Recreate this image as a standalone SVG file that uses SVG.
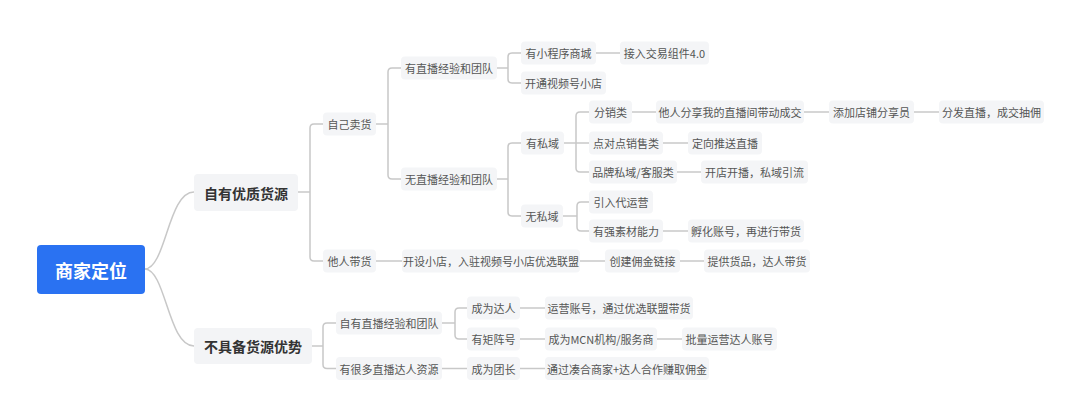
<svg xmlns="http://www.w3.org/2000/svg" width="1080" height="418" viewBox="0 0 1080 418">
<style>
.bg{fill:#ffffff}
.n rect{fill:#f4f5f7}
.n text{font-family:"Noto Sans CJK SC","Noto Sans",sans-serif;font-size:11px;fill:#555555;text-anchor:middle;dominant-baseline:central}
.l1 rect{fill:#f3f4f6}
.l1 text{font-family:"Noto Sans CJK SC","Noto Sans",sans-serif;font-size:14px;font-weight:bold;fill:#333333;text-anchor:middle;dominant-baseline:central}
.root rect{fill:#2a72f2}
.root text{font-family:"Noto Sans CJK SC","Noto Sans",sans-serif;font-size:18px;font-weight:bold;fill:#ffffff;text-anchor:middle;dominant-baseline:central}
#connectors path{fill:none;stroke:#c8c8c8;stroke-width:1.5}
</style>
<rect class="bg" x="0" y="0" width="1080" height="418"/>
<g id="connectors">
<path d="M145 269 C166 268 168 192 194 192"/>
<path d="M145 269 C166 270 168 346 194 346"/>
<path d="M298 192 H310"/>
<path d="M310 192 V128 Q310 124 314 124 H323"/>
<path d="M310 192 V257 Q310 261 314 261 H323"/>
<path d="M376 124 H388"/>
<path d="M388 124 V72 Q388 68 392 68 H401"/>
<path d="M388 124 V175 Q388 179 392 179 H401"/>
<path d="M497 68 H508"/>
<path d="M508 68 V57 Q508 53 512 53 H521"/>
<path d="M508 68 V79 Q508 83 512 83 H521"/>
<path d="M596 53 H620"/>
<path d="M497 179 H508"/>
<path d="M508 179 V147 Q508 143 512 143 H521"/>
<path d="M508 179 V212 Q508 216 512 216 H521"/>
<path d="M564 143 H589"/>
<path d="M576 143 V116 Q576 112 580 112 H589"/>
<path d="M576 143 V168 Q576 172 580 172 H589"/>
<path d="M632 112 H656"/>
<path d="M804 112 H829"/>
<path d="M914 112 H939"/>
<path d="M663 143 H688"/>
<path d="M677 172 H701"/>
<path d="M563 216 H577"/>
<path d="M577 216 V206 Q577 202 581 202 H589"/>
<path d="M577 216 V227 Q577 231 581 231 H589"/>
<path d="M663 231 H688"/>
<path d="M376 261 H402"/>
<path d="M580 261 H605"/>
<path d="M680 261 H704"/>
<path d="M312 346 H323"/>
<path d="M323 346 V327 Q323 323 327 323 H336"/>
<path d="M323 346 V364.5 Q323 368.5 327 368.5 H336"/>
<path d="M442 323 H455"/>
<path d="M455 323 V312 Q455 308 459 308 H467"/>
<path d="M455 323 V335 Q455 339 459 339 H467"/>
<path d="M520 308 H545"/>
<path d="M520 339 H545"/>
<path d="M657 339 H682"/>
<path d="M442 368.5 H467"/>
<path d="M520 368.5 H545"/>
</g>
<g id="root" class="root"><rect x="37" y="245" width="108" height="49" rx="4"/><text x="91" y="269.5">商家定位</text></g>
<g id="n-ziyou" class="l1"><rect x="194" y="174" width="104" height="37" rx="4"/><text x="246" y="192.5">自有优质货源</text></g>
<g id="n-buju" class="l1"><rect x="194" y="328" width="118" height="36" rx="4"/><text x="253" y="346">不具备货源优势</text></g>
<g id="n-zijimai" class="n"><rect x="323" y="112.5" width="53" height="23" rx="4"/><text x="349.5" y="124">自己卖货</text></g>
<g id="n-tarendai" class="n"><rect x="323" y="249.5" width="53" height="23" rx="4"/><text x="349.5" y="261">他人带货</text></g>
<g id="n-youzhibo" class="n"><rect x="401" y="56.5" width="96" height="23" rx="4"/><text x="449" y="68">有直播经验和团队</text></g>
<g id="n-wuzhibo" class="n"><rect x="401" y="167.5" width="96" height="23" rx="4"/><text x="449" y="179">无直播经验和团队</text></g>
<g id="n-xiaochengxu" class="n"><rect x="521" y="41.5" width="75" height="23" rx="4"/><text x="558.5" y="53">有小程序商城</text></g>
<g id="n-kaitong" class="n"><rect x="521" y="71.5" width="85" height="23" rx="4"/><text x="563.5" y="83">开通视频号小店</text></g>
<g id="n-jieru" class="n"><rect x="620" y="41.5" width="89" height="23" rx="4"/><text x="664.5" y="53">接入交易组件4.0</text></g>
<g id="n-yousiyu" class="n"><rect x="521" y="131.5" width="43" height="23" rx="4"/><text x="542.5" y="143">有私域</text></g>
<g id="n-wusiyu" class="n"><rect x="521" y="204.5" width="42" height="23" rx="4"/><text x="542" y="216">无私域</text></g>
<g id="n-fenxiao" class="n"><rect x="589" y="100.5" width="43" height="23" rx="4"/><text x="610.5" y="112">分销类</text></g>
<g id="n-taren" class="n"><rect x="656" y="100.5" width="148" height="23" rx="4"/><text x="730" y="112">他人分享我的直播间带动成交</text></g>
<g id="n-tianjia" class="n"><rect x="829" y="100.5" width="85" height="23" rx="4"/><text x="871.5" y="112">添加店铺分享员</text></g>
<g id="n-fenfa" class="n"><rect x="939" y="100.5" width="105" height="23" rx="4"/><text x="991.5" y="112">分发直播，成交抽佣</text></g>
<g id="n-diandui" class="n"><rect x="589" y="131.5" width="74" height="23" rx="4"/><text x="626" y="143">点对点销售类</text></g>
<g id="n-dingxiang" class="n"><rect x="688" y="131.5" width="74" height="23" rx="4"/><text x="725" y="143">定向推送直播</text></g>
<g id="n-pinpai" class="n"><rect x="589" y="160.5" width="88" height="23" rx="4"/><text x="633" y="172">品牌私域/客服类</text></g>
<g id="n-kaidian" class="n"><rect x="701" y="160.5" width="107" height="23" rx="4"/><text x="754.5" y="172">开店开播，私域引流</text></g>
<g id="n-yinru" class="n"><rect x="589" y="190.5" width="64" height="23" rx="4"/><text x="621" y="202">引入代运营</text></g>
<g id="n-youqiang" class="n"><rect x="589" y="219.5" width="74" height="23" rx="4"/><text x="626" y="231">有强素材能力</text></g>
<g id="n-fuhua" class="n"><rect x="688" y="219.5" width="116" height="23" rx="4"/><text x="746" y="231">孵化账号，再进行带货</text></g>
<g id="n-kaishe" class="n"><rect x="402" y="249.5" width="178" height="23" rx="4"/><text x="491" y="261">开设小店，入驻视频号小店优选联盟</text></g>
<g id="n-chuangjian" class="n"><rect x="605" y="249.5" width="75" height="23" rx="4"/><text x="642.5" y="261">创建佣金链接</text></g>
<g id="n-tigong" class="n"><rect x="704" y="249.5" width="106" height="23" rx="4"/><text x="757" y="261">提供货品，达人带货</text></g>
<g id="n-ziyouzhibo" class="n"><rect x="336" y="311.5" width="106" height="23" rx="4"/><text x="389" y="323">自有直播经验和团队</text></g>
<g id="n-henduo" class="n"><rect x="336" y="357" width="106" height="23" rx="4"/><text x="389" y="368.5">有很多直播达人资源</text></g>
<g id="n-darencheng" class="n"><rect x="467" y="296.5" width="53" height="23" rx="4"/><text x="493.5" y="308">成为达人</text></g>
<g id="n-yunying" class="n"><rect x="545" y="296.5" width="148" height="23" rx="4"/><text x="619" y="308">运营账号，通过优选联盟带货</text></g>
<g id="n-juzhen" class="n"><rect x="467" y="327.5" width="53" height="23" rx="4"/><text x="493.5" y="339">有矩阵号</text></g>
<g id="n-mcn" class="n"><rect x="545" y="327.5" width="112" height="23" rx="4"/><text x="601" y="339">成为MCN机构/服务商</text></g>
<g id="n-piliang" class="n"><rect x="682" y="327.5" width="95" height="23" rx="4"/><text x="729.5" y="339">批量运营达人账号</text></g>
<g id="n-tuanzhang" class="n"><rect x="467" y="357" width="53" height="23" rx="4"/><text x="493.5" y="368.5">成为团长</text></g>
<g id="n-tongguo" class="n"><rect x="545" y="357" width="164" height="23" rx="4"/><text x="627" y="368.5">通过凑合商家+达人合作赚取佣金</text></g>
</svg>
